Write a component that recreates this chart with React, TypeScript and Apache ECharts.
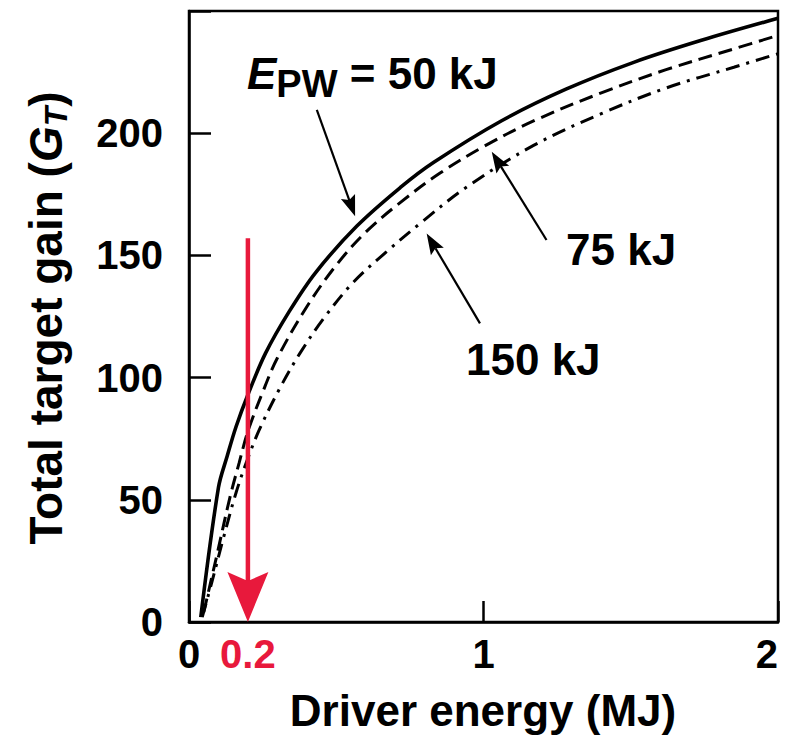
import React, { useEffect, useRef } from 'react';
import * as echarts from 'echarts';

// Driver energy (MJ) / total target gain for each pulse energy
const energy50 = [0.04, 0.1, 0.13, 0.16, 0.2, 0.26, 0.34, 0.43, 0.57, 0.72, 0.83, 1.06, 1.28, 1.51, 1.74, 2.0];
const gain50 = [2, 55, 68, 80, 93, 110, 127, 143, 162, 178, 188, 205, 218, 229, 238, 247];

const energy75 = [0.05, 0.094, 0.139, 0.17, 0.2, 0.25, 0.3, 0.4, 0.5, 0.6, 0.716, 0.85, 1.0, 1.17, 1.4, 1.62, 1.85, 2.0];
const gain75 = [4, 27, 51, 65, 78, 94, 108, 129, 146, 159.5, 171.5, 183.5, 194.5, 205, 216.5, 226, 234.5, 240];

const energy150 = [0.045, 0.077, 0.116, 0.16, 0.2, 0.24, 0.31, 0.377, 0.456, 0.558, 0.671, 0.784, 0.943, 1.17, 1.4, 1.62, 1.85, 2.0];
const gain150 = [2, 16, 34, 53, 67, 79, 96, 110, 124, 139, 151.5, 163, 178, 195, 208, 218.5, 227, 232.5];

const xLabelValues = [0, 0.2, 1, 2];
const xTickValues = [0, 1, 2];

// annotation arrows: [fromX, fromY, toX, toY]
const blackArrows = [
  [0.434, 209.5, 0.564, 166],
  [1.214, 156.3, 1.028, 192.4],
  [0.988, 122.2, 0.807, 159],
];
const redArrows = [[0.2, 157, 0.2, 0]];

const FONT = "'Liberation Sans', Arial, Helvetica, sans-serif";
const RED = '#E8193C';

const zip = (xs: number[], ys: number[]) => xs.map((x, i) => [x, ys[i]]);

const arrowRenderer = (headLen: number, headWid: number, lw: number, color: string) =>
  (params: any, api: any) => {
    const p1 = api.coord([api.value(0), api.value(1)]);
    const p2 = api.coord([api.value(2), api.value(3)]);
    const dx = p2[0] - p1[0];
    const dy = p2[1] - p1[1];
    const len = Math.hypot(dx, dy) || 1;
    const ux = dx / len, uy = dy / len;
    const nx = -uy, ny = ux;
    const notch = headLen * 0.18;
    const bx = p2[0] - ux * headLen, by = p2[1] - uy * headLen;
    const mx = p2[0] - ux * (headLen - notch), my = p2[1] - uy * (headLen - notch);
    const w = headWid / 2;
    return {
      type: 'group',
      children: [
        {
          type: 'line',
          shape: { x1: p1[0], y1: p1[1], x2: mx, y2: my },
          style: { stroke: color, lineWidth: lw },
        },
        {
          type: 'polygon',
          shape: { points: [[p2[0], p2[1]], [bx + nx * w, by + ny * w], [mx, my], [bx - nx * w, by - ny * w]] },
          style: { fill: color },
        },
      ],
    };
  };

export default function App() {
  const ref = useRef<HTMLDivElement>(null);
  useEffect(() => {
    const chart = echarts.init(ref.current!, null, { renderer: 'svg' });
    const lineBase = {
      type: 'line',
      showSymbol: false,
      smooth: 0.35,
      z: 3,
    };
    chart.setOption({
      animation: false,
      backgroundColor: '#fff',
      grid: {
        left: 189, right: 7, top: 11, bottom: 115,
        show: true, borderColor: '#000', borderWidth: 2.5, backgroundColor: 'transparent',
      },
      xAxis: {
        type: 'value', min: 0, max: 2, interval: 1,
        axisLine: { show: true, lineStyle: { color: '#000', width: 2.5 } },
        axisTick: { show: true, inside: true, length: 21, lineStyle: { color: '#000', width: 2.5 }, customValues: xTickValues },
        splitLine: { show: false },
        axisLabel: {
          customValues: xLabelValues,
          margin: 12,
          fontSize: 40, fontWeight: 'bold', fontFamily: FONT, color: '#000',
          alignMaxLabel: 'right',
          formatter: (v: number) => (Math.abs(v - 0.2) < 1e-9 ? '{r|0.2}' : String(v)),
          rich: { r: { color: RED, fontSize: 40, fontWeight: 'bold', fontFamily: FONT } },
        },
      },
      yAxis: {
        type: 'value', min: 0, max: 250, interval: 50,
        axisLine: { show: true, lineStyle: { color: '#000', width: 2.5 } },
        axisTick: { show: true, inside: true, length: 22, lineStyle: { color: '#000', width: 2.5 } },
        splitLine: { show: false },
        axisLabel: {
          margin: 26,
          fontSize: 40, fontWeight: 'bold', fontFamily: FONT, color: '#000',
          formatter: (v: number) => (v === 250 ? '' : String(v)),
        },
      },
      series: [
        { ...lineBase, name: '50 kJ', data: zip(energy50, gain50), lineStyle: { color: '#000', width: 3.6 } },
        { ...lineBase, name: '75 kJ', data: zip(energy75, gain75), lineStyle: { color: '#000', width: 3, type: [14, 7] } },
        { ...lineBase, name: '150 kJ', data: zip(energy150, gain150), lineStyle: { color: '#000', width: 3, type: [14, 7, 3, 7] } },
        {
          type: 'custom', name: 'notes', data: blackArrows, z: 4, clip: false,
          encode: { x: [0, 2], y: [1, 3] },
          renderItem: arrowRenderer(21, 15, 2.2, '#000'),
        },
        {
          type: 'custom', name: 'marker', data: redArrows, z: 5, clip: false,
          encode: { x: [0, 2], y: [1, 3] },
          renderItem: arrowRenderer(50, 41, 4.5, RED),
        },
      ],
      graphic: [
        {
          type: 'text', x: 483, y: 710,
          style: { text: 'Driver energy (MJ)', fontSize: 44, fontWeight: 'bold', fontFamily: FONT, fill: '#000', align: 'center', verticalAlign: 'middle' },
        },
        {
          type: 'text', x: 46, y: 318, rotation: Math.PI / 2,
          style: {
            text: '{n|Total target gain (}{g|G}{t|T}{n|)}',
            align: 'center', verticalAlign: 'middle', fill: '#000',
            rich: {
              n: { fontSize: 46, lineHeight: 46, fontWeight: 'bold', fontFamily: FONT, verticalAlign: 'top' },
              g: { fontSize: 46, lineHeight: 46, fontWeight: 'bold', fontStyle: 'italic', fontFamily: FONT, verticalAlign: 'top' },
              t: { fontSize: 32, lineHeight: 32, fontWeight: 'bold', fontStyle: 'italic', fontFamily: FONT, verticalAlign: 'top', padding: [17, 0, 0, 0] },
            },
          },
        },
        {
          type: 'text', x: 247, y: 73,
          style: {
            text: '{e|E}{s|PW}{n| = 50 kJ}',
            align: 'left', verticalAlign: 'middle', fill: '#000',
            rich: {
              e: { fontSize: 44, lineHeight: 44, fontWeight: 'bold', fontStyle: 'italic', fontFamily: FONT, verticalAlign: 'top' },
              s: { fontSize: 38, lineHeight: 38, fontWeight: 'bold', fontFamily: FONT, verticalAlign: 'top', padding: [14, 0, 0, 0] },
              n: { fontSize: 44, lineHeight: 44, fontWeight: 'bold', fontFamily: FONT, verticalAlign: 'top' },
            },
          },
        },
        {
          type: 'text', x: 566, y: 249,
          style: { text: '75 kJ', fontSize: 44, fontWeight: 'bold', fontFamily: FONT, fill: '#000', align: 'left', verticalAlign: 'middle' },
        },
        {
          type: 'text', x: 466, y: 359.5,
          style: { text: '150 kJ', fontSize: 44, fontWeight: 'bold', fontFamily: FONT, fill: '#000', align: 'left', verticalAlign: 'middle' },
        },
      ],
    });
    return () => chart.dispose();
  }, []);
  return (
    <div
      ref={ref}
      style={{ position: 'fixed', left: 0, top: 0, width: 785, height: 737, background: '#fff' }}
    />
  );
}
